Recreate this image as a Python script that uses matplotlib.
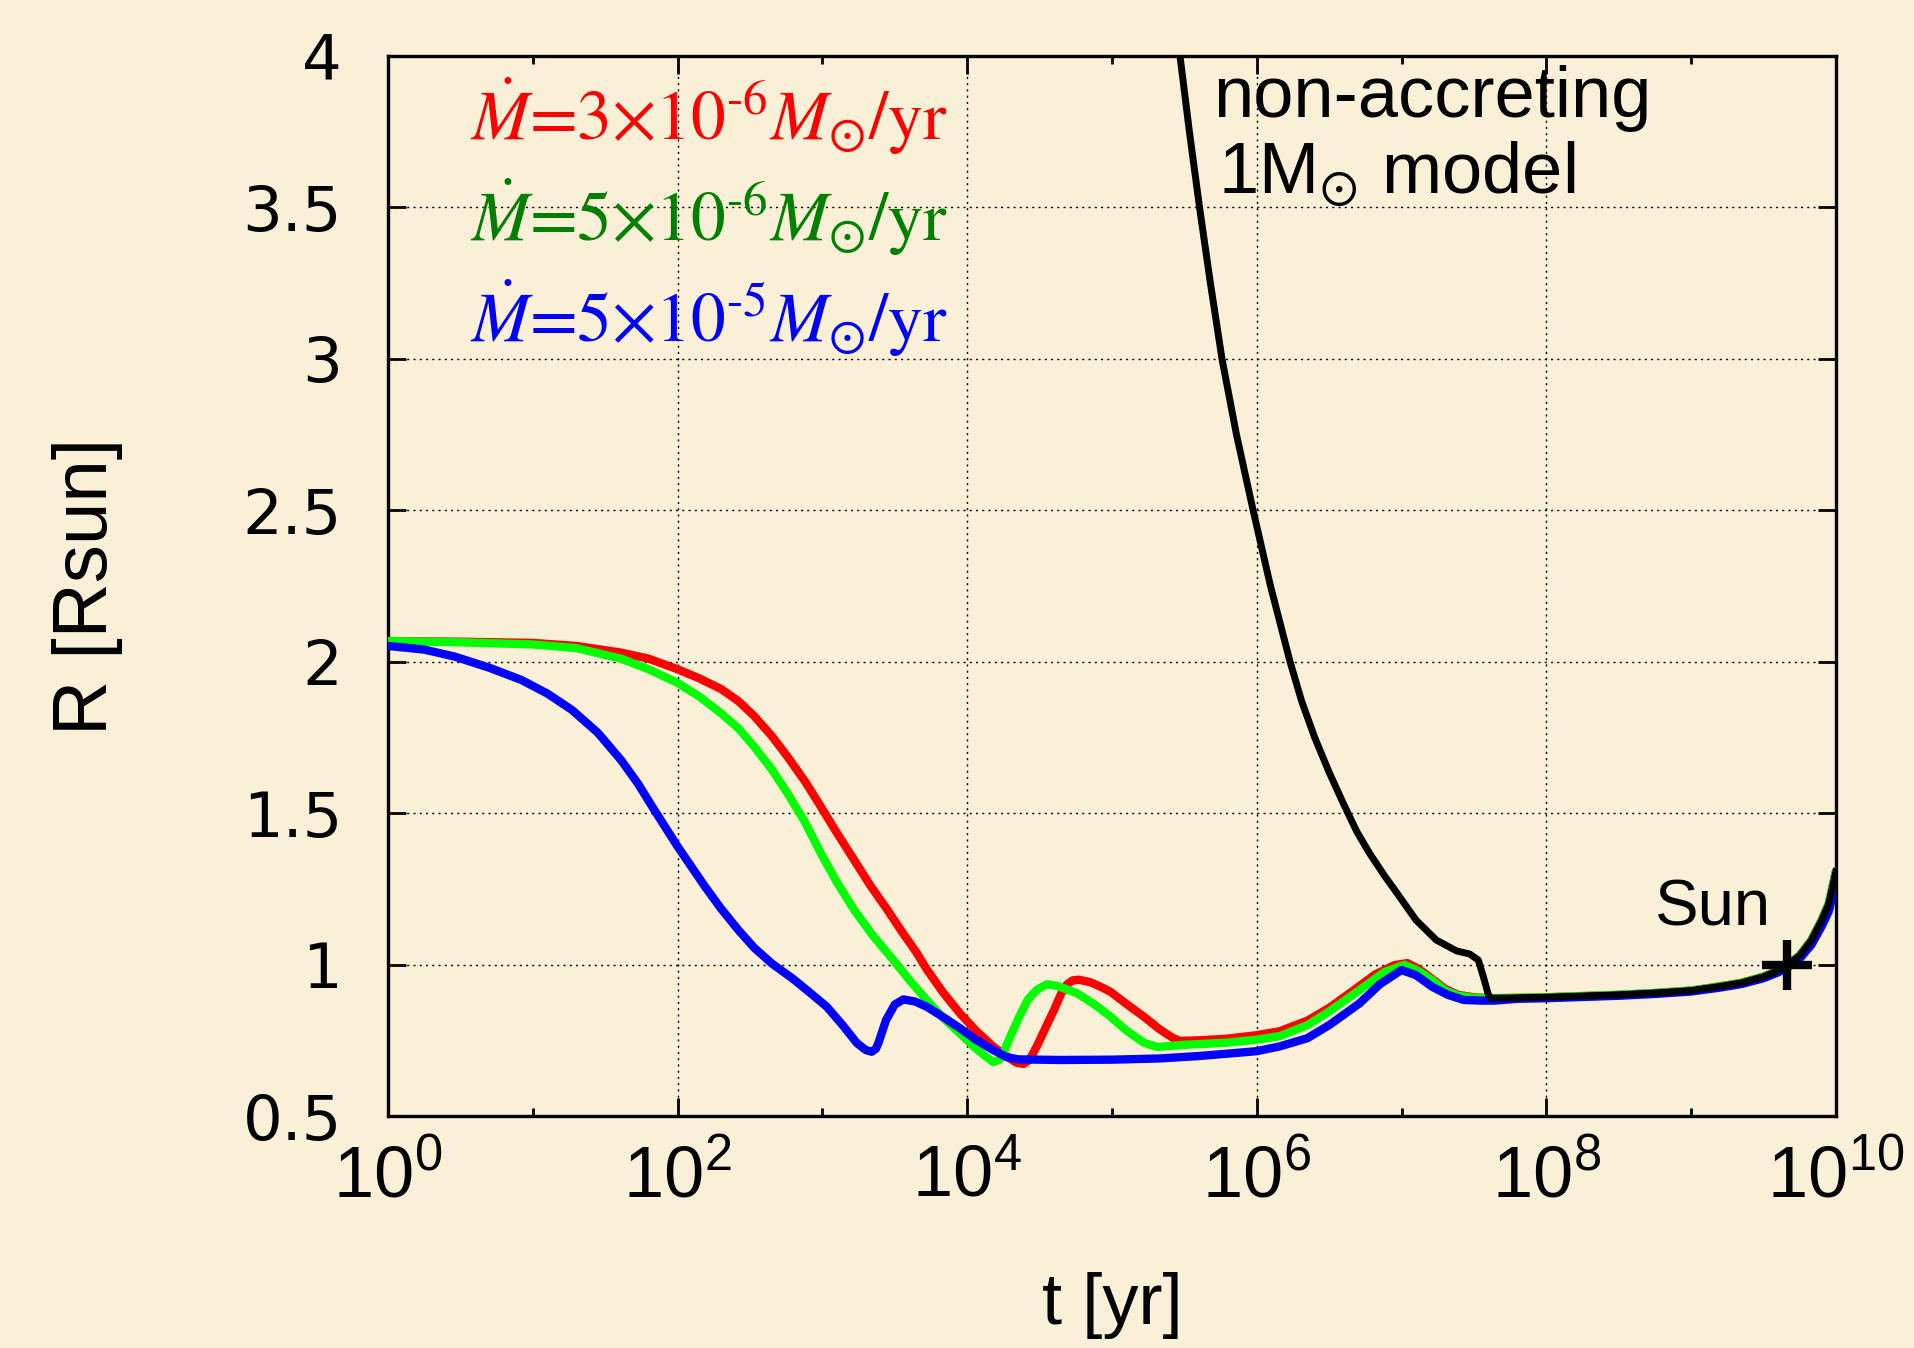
import numpy as np
import matplotlib
matplotlib.use("Agg")
import matplotlib.pyplot as plt
from matplotlib.ticker import FixedLocator, FixedFormatter, NullFormatter

# log10(t [yr]) and R [Rsun]
red_logt = [0.0, 0.5, 1.0, 1.3, 1.61, 1.8, 2.0, 2.15, 2.3, 2.42, 2.53, 2.65, 2.76, 2.88,
            2.99, 3.1, 3.22, 3.33, 3.45, 3.55, 3.65, 3.72, 3.83, 3.95, 4.06, 4.18, 4.28,
            4.34, 4.39, 4.43, 4.48, 4.54, 4.60, 4.65, 4.69, 4.73, 4.77, 4.85, 4.92, 4.99,
            5.10, 5.22, 5.33, 5.42, 5.47, 5.6, 5.79, 6.0, 6.16, 6.35, 6.5, 6.64, 6.82,
            6.95, 7.04, 7.12, 7.21, 7.30, 7.39, 7.50, 7.62]
red_r = [2.068, 2.066, 2.062, 2.052, 2.030, 2.010, 1.975, 1.945, 1.910, 1.870, 1.820,
         1.755, 1.686, 1.605, 1.521, 1.435, 1.345, 1.262, 1.180, 1.108, 1.040, 0.985,
         0.910, 0.839, 0.782, 0.729, 0.695, 0.676, 0.672, 0.685, 0.729, 0.790, 0.850,
         0.905, 0.935, 0.948, 0.950, 0.942, 0.927, 0.910, 0.870, 0.828, 0.786, 0.758,
         0.748, 0.750, 0.755, 0.767, 0.780, 0.815, 0.857, 0.905, 0.968, 0.998, 1.005,
         0.985, 0.953, 0.920, 0.900, 0.892, 0.889]

green_logt = [0.0, 0.5, 1.0, 1.3, 1.61, 1.8, 2.0, 2.15, 2.3, 2.42, 2.53, 2.65, 2.76, 2.88,
              2.99, 3.1, 3.22, 3.35, 3.49, 3.6, 3.72, 3.83, 3.95, 4.05, 4.12, 4.18, 4.22,
              4.25, 4.30, 4.36, 4.42, 4.48, 4.55, 4.62, 4.76, 4.88, 4.99, 5.10, 5.22,
              5.31, 5.5, 5.79, 6.0, 6.16, 6.35, 6.5, 6.71, 6.88, 7.02, 7.12, 7.21, 7.30,
              7.39, 7.50, 7.62]
green_r = [2.068, 2.064, 2.057, 2.045, 2.010, 1.975, 1.930, 1.885, 1.830, 1.780, 1.719,
           1.645, 1.565, 1.470, 1.367, 1.272, 1.180, 1.095, 1.015, 0.950, 0.883, 0.826,
           0.773, 0.727, 0.700, 0.678, 0.685, 0.707, 0.765, 0.828, 0.885, 0.916, 0.935,
           0.930, 0.905, 0.868, 0.828, 0.782, 0.742, 0.728, 0.735, 0.742, 0.752, 0.764,
           0.800, 0.845, 0.916, 0.975, 0.999, 0.978, 0.949, 0.915, 0.897, 0.890, 0.889]

blue_logt = [0.0, 0.25, 0.46, 0.7, 0.92, 1.1, 1.27, 1.45, 1.61, 1.73, 1.84, 1.92, 2.0, 2.1,
             2.19, 2.3, 2.42, 2.53, 2.65, 2.80, 2.92, 3.03, 3.14, 3.24, 3.30, 3.34, 3.37,
             3.39, 3.44, 3.50, 3.56, 3.64, 3.72, 3.83, 3.95, 4.06, 4.18, 4.27, 4.35, 4.64,
             5.0, 5.33, 5.6, 5.8, 6.0, 6.16, 6.35, 6.5, 6.71, 6.85, 7.00, 7.10, 7.21, 7.32,
             7.43, 7.55, 7.64]
blue_r = [2.052, 2.040, 2.017, 1.980, 1.940, 1.895, 1.841, 1.765, 1.675, 1.595, 1.510,
          1.450, 1.390, 1.320, 1.257, 1.185, 1.114, 1.055, 1.004, 0.952, 0.905, 0.861,
          0.800, 0.740, 0.718, 0.712, 0.722, 0.745, 0.817, 0.868, 0.885, 0.878, 0.861,
          0.828, 0.790, 0.752, 0.718, 0.695, 0.687, 0.685, 0.686, 0.690, 0.698, 0.706,
          0.714, 0.730, 0.757, 0.800, 0.872, 0.935, 0.982, 0.965, 0.927, 0.900, 0.883,
          0.881, 0.881]

# common main-sequence track shared by all models
tail_logt = [7.8, 8.0, 8.25, 8.5, 8.75, 9.0, 9.2, 9.35, 9.5, 9.6, 9.67, 9.75, 9.83, 9.9,
             9.95, 10.0]
tail_r = [0.890, 0.892, 0.896, 0.900, 0.906, 0.914, 0.928, 0.940, 0.960, 0.980, 1.000,
          1.030, 1.080, 1.145, 1.200, 1.307]
blue_tail_r = [0.887, 0.889, 0.893, 0.897, 0.903, 0.911, 0.924, 0.936, 0.955, 0.974,
               0.993, 1.020, 1.065, 1.125, 1.175, 1.268]

# non-accreting 1 Msun model
black_logt = [5.45, 5.47, 5.535, 5.605, 5.68, 5.76, 5.86, 5.975, 6.095, 6.23, 6.31, 6.40,
              6.50, 6.60, 6.69, 6.78, 6.88, 6.97, 7.10, 7.24, 7.38, 7.47, 7.53, 7.565,
              7.60, 7.62]
black_r = [4.07, 4.0, 3.75, 3.5, 3.25, 3.0, 2.75, 2.5, 2.25, 2.0, 1.87, 1.75,
           1.635, 1.53, 1.44, 1.367, 1.295, 1.235, 1.147, 1.081, 1.045, 1.035, 1.015,
           0.960, 0.900, 0.889]

sun_t = 4.57e9
sun_r = 1.0

legend_labels = ['$\\dot{M}$=3×10$^{\u20106}$$M_{\\odot}$/yr',
                 '$\\dot{M}$=5×10$^{\u20106}$$M_{\\odot}$/yr',
                 '$\\dot{M}$=5×10$^{\u20105}$$M_{\\odot}$/yr']
legend_colors = ['#ff0000', '#008000', '#0000ff']

y_ticks = [0.5, 1, 1.5, 2, 2.5, 3, 3.5, 4]
y_ticklabels = ['0.5', '1', '1.5', '2', '2.5', '3', '3.5', '4']
x_major_exp = [0, 2, 4, 6, 8, 10]
x_minor_exp = [1, 3, 5, 7, 9]

plt.rcParams['font.family'] = ['Liberation Sans', 'DejaVu Sans']
plt.rcParams['mathtext.fontset'] = 'custom'
plt.rcParams['mathtext.rm'] = 'Liberation Sans'
plt.rcParams['mathtext.it'] = 'Liberation Sans:italic'

bg = '#faf0d8'
fig = plt.figure(figsize=(19.14, 13.48), dpi=100, facecolor=bg)
ax = fig.add_axes([0.2027, 0.1721, 0.7565, 0.7864])
ax.set_facecolor(bg)

def full(logt, r, tail_x, tail_y):
  return 10.0 ** np.array(list(logt) + list(tail_x)), np.array(list(r) + list(tail_y))

line_kw = dict(lw=6, solid_capstyle='round', solid_joinstyle='round')
x, y = full(red_logt, red_r, tail_logt, tail_r)
ax.plot(x, y, color='#ff0000', zorder=3, **line_kw)
x, y = full(green_logt, green_r, tail_logt, tail_r)
ax.plot(x, y, color='#00ff00', zorder=4, **line_kw)
x, y = full(blue_logt, blue_r, tail_logt, blue_tail_r)
ax.plot(x, y, color='#0000ff', zorder=5, **line_kw)
x, y = full(black_logt, black_r, tail_logt, tail_r)
ax.plot(x, y, color='black', lw=5, solid_joinstyle='round', zorder=6)
ax.plot([sun_t], [sun_r], marker='+', color='black', ms=36, mew=6, zorder=7)

ax.set_xscale('log')
ax.set_xlim(1, 1e10)
ax.set_ylim(0.5, 4)

ax.xaxis.set_major_locator(FixedLocator([10.0 ** e for e in x_major_exp]))
ax.xaxis.set_major_formatter(FixedFormatter([r'$\mathregular{10^{%d}}$' % e for e in x_major_exp]))
ax.xaxis.set_minor_locator(FixedLocator([10.0 ** e for e in x_minor_exp]))
ax.xaxis.set_minor_formatter(NullFormatter())
ax.yaxis.set_major_locator(FixedLocator(y_ticks))
ax.yaxis.set_major_formatter(FixedFormatter(y_ticklabels))

ax.tick_params(which='both', direction='in', top=True, right=True, width=2)
ax.tick_params(which='major', length=13)
ax.tick_params(which='minor', length=6)
ax.tick_params(axis='x', which='major', labelsize=52, pad=20)
ax.tick_params(axis='y', which='major', labelsize=45, pad=33)
for lab in ax.get_yticklabels():
  lab.set_family('DejaVu Sans')
for s in ax.spines.values():
  s.set_linewidth(2.4)

ax.grid(True, which='major', color='black', lw=1.0, linestyle=(0, (1.5, 3)))

ax.set_xlabel('t [yr]', fontsize=52)
ax.set_ylabel('R [Rsun]', fontsize=55)
ax.xaxis.set_label_coords(0.5, -0.147)
ax.yaxis.set_label_coords(-0.183, 0.5)

for i, (lab, col) in enumerate(zip(legend_labels, legend_colors)):
  ax.text(0.0566, 0.921 - 0.0955 * i, lab, transform=ax.transAxes, color=col,
          fontsize=50, family='STIXGeneral', math_fontfamily='stix', va='baseline', zorder=8)

ax.text(0.570, 0.9425, 'non-accreting', transform=ax.transAxes, fontsize=52, va='baseline')
ax.text(0.573, 0.8708, r'1M$_{\odot}$ model', transform=ax.transAxes, fontsize=52,
        va='baseline', math_fontfamily='stix')
ax.text(0.875, 0.180, 'Sun', transform=ax.transAxes, fontsize=47, va='baseline')

fig.savefig('out.png', dpi=100, facecolor=bg)
